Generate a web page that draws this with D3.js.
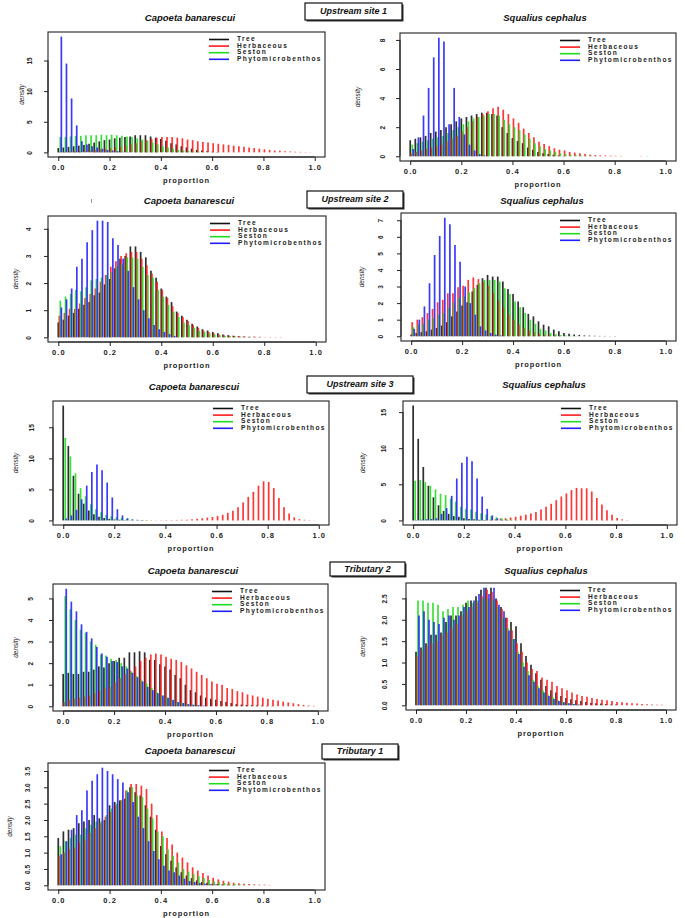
<!DOCTYPE html>
<html><head><meta charset="utf-8">
<script src="https://cdn.jsdelivr.net/npm/d3@7"></script>
<style>body{margin:0;background:#fff} svg{display:block}</style>
</head><body>
<svg id="c" width="685" height="918"></svg>
<script>
// ---------- categories / labels ----------
const sources = ["Tree","Herbaceous","Seston","Phytomicrobenthos"];
const species = ["Capoeta banarescui","Squalius cephalus"];
const sites = ["Upstream site 1","Upstream site 2","Upstream site 3","Tributary 2","Tributary 1"];
const xTicks = [0,0.2,0.4,0.6,0.8,1.0];
const binWidth = 0.02;
const yTicksP1 = [0,5,10,15];
const yTicksP2 = [0,2,4,6,8];
const yTicksP3 = [0,1,2,3,4];
const yTicksP4 = [0,1,2,3,4,5,6,7];
const yTicksP5 = [0,5,10,15];
const yTicksP6 = [0,5,10,15];
const yTicksP7 = [0,1,2,3,4,5];
const yTicksP8 = [0,0.5,1.0,1.5,2.0,2.5];
const yTicksP9 = [0,0.5,1.0,1.5,2.0,2.5,3.0,3.5];

// ---------- densities per 0.02 bin (index k -> proportion 0.02k) ----------
// Upstream site 1 - Capoeta banarescui
const p1Tree = [0.7,0.8,0.9,1.0,1.1,1.2,1.4,1.6,1.8,2.0,2.1,2.3,2.4,2.5,2.6,2.8,2.8,2.8,2.6,2.4,2.2,1.9,1.5,1.3,1.0,0.8,0.6,0.4,0.3,0.2,0.1,0.05];
const p1Herb = [0.1,0.1,0.15,0.2,0.2,0.3,0.3,0.4,0.5,0.6,0.7,0.8,0.9,1.1,1.3,1.5,1.8,2.0,2.2,2.4,2.5,2.5,2.5,2.4,2.3,2.1,2.0,1.8,1.7,1.6,1.5,1.4,1.3,1.2,1.1,1.0,0.9,0.8,0.7,0.6,0.5,0.4,0.3,0.25,0.2,0.15,0.1,0.08,0.05,0.03];
const p1Seston = [2.5,2.5,2.6,2.7,2.7,2.8,2.8,2.8,2.9,2.8,2.9,2.8,2.7,2.6,2.5,2.3,2.1,1.9,1.6,1.3,1.0,0.8,0.6,0.4,0.3,0.2,0.15,0.1,0.05,0.03,0.02];
const p1Phyto = [18.9,14.5,8.8,4.4,1.8,1.3,1.0,0.8,0.6,0.4,0.3,0.2,0.1,0.05];
// Upstream site 1 - Squalius cephalus
const p2Tree = [1.1,1.2,1.3,1.4,1.6,1.7,1.8,2.0,2.2,2.4,2.6,2.7,2.8,2.9,3.0,3.0,2.9,2.8,2.0,1.6,1.25,1.05,0.9,0.6,0.45,0.3,0.2,0.15,0.1,0.05,0.02];
const p2Herb = [0.2,0.3,0.4,0.5,0.6,0.7,0.8,1.0,1.2,1.4,1.7,2.0,2.4,2.7,2.9,3.1,3.3,3.4,3.2,2.9,2.6,2.3,1.9,1.6,1.3,1.0,0.85,0.7,0.55,0.45,0.4,0.3,0.25,0.2,0.15,0.1,0.08,0.06,0.05,0.04,0.03,0.02,0,0,0,0.02];
const p2Seston = [0.8,0.9,1.0,1.1,1.2,1.3,1.4,1.6,1.8,2.0,2.2,2.4,2.6,2.7,2.8,2.9,2.9,2.8,2.5,2.2,2.0,1.8,1.5,1.2,0.9,0.7,0.5,0.4,0.3,0.2,0.15,0.1,0.08,0.05,0.04,0.03,0.02,0,0,0,0,0,0,0,0,0,0.02];
const p2Phyto = [0.5,1.3,2.8,4.7,6.8,8.15,7.9,2.2,4.7,2.7,1.5,0.8,0.4,0.15,0.05];
// Upstream site 2 - Capoeta banarescui
const p3Tree = [0.55,0.65,0.8,0.9,1.05,1.2,1.3,1.55,1.65,1.95,2.15,2.55,2.9,3.0,3.35,3.35,3.15,2.95,2.45,2.2,1.8,1.5,1.3,0.95,0.8,0.65,0.5,0.4,0.3,0.25,0.2,0.15,0.1,0.08,0.06,0.04,0.03,0.02,0.02,0.01];
const p3Herb = [0.8,0.9,1.05,1.05,1.25,1.45,1.6,1.8,2.05,2.3,2.6,2.8,3.0,3.1,3.15,3.15,2.9,2.65,2.35,2.05,1.75,1.45,1.15,0.9,0.75,0.6,0.45,0.35,0.25,0.2,0.15,0.1,0.08,0.06,0.05,0.04,0.03,0.02,0.02,0.02,0.01,0.01,0.01,0.01];
const p3Seston = [1.35,1.5,1.6,1.75,1.7,1.85,2.1,2.15,2.2,2.3,2.4,2.6,2.7,2.95,2.95,2.9,2.6,2.3,2.2,1.75,1.5,1.2,0.95,0.75,0.55,0.45,0.35,0.25,0.2,0.15,0.1,0.08,0.05,0.04,0.03,0.02];
const p3Phyto = [1.1,1.4,1.8,2.6,2.9,3.5,3.95,4.3,4.3,4.25,3.65,3.4,2.9,2.45,1.85,1.4,1.0,0.7,0.45,0.3,0.2,0.12,0.05];
// Upstream site 2 - Squalius cephalus
const p4Tree = [0.1,0.2,0.25,0.3,0.4,0.5,0.65,0.85,1.2,1.5,1.85,2.05,2.7,3.1,3.5,3.7,3.6,3.6,3.3,2.85,2.55,2.1,1.75,1.35,1.2,0.9,0.7,0.6,0.4,0.3,0.2,0.15,0.1,0.08,0.05,0.04,0.03,0.02,0.02,0.01,0.01];
const p4Herb = [0.85,1.0,1.15,1.4,1.65,2.05,2.2,2.6,2.6,2.95,3.05,3.4,3.55,3.45,3.3,3.05,2.6,2.15,1.75,1.3,1.0,0.7,0.5,0.35,0.25,0.15,0.1,0.06,0.04,0.02];
const p4Seston = [0.55,0.7,0.75,1.0,1.1,1.3,1.4,1.7,2.0,2.3,2.4,2.65,2.9,3.2,3.4,3.4,3.4,3.3,2.9,2.55,2.1,1.75,1.4,1.0,0.75,0.45,0.35,0.2,0.12,0.08,0.05,0.03,0.02];
const p4Phyto = [0.45,1.0,1.8,3.2,4.9,6.05,7.15,6.75,5.5,4.5,3.0,2.0,1.3,0.6,0.35,0.2,0.1,0.05];
// Upstream site 3 - Capoeta banarescui
const p5Tree = [18.5,12.0,7.2,4.3,2.7,1.6,1.0,0.6,0.4,0.25,0.15,0.1,0.05,0.03];
const p5Herb = [0,0,0,0,0,0,0,0,0,0,0,0,0,0,0,0.02,0.02,0.03,0.03,0.04,0.05,0.06,0.08,0.1,0.12,0.18,0.25,0.35,0.45,0.55,0.7,0.9,1.2,1.55,2.1,2.9,3.8,4.6,5.6,6.3,6.2,5.2,3.6,2.1,1.1,0.5,0.2,0.1,0.05,0.02];
const p5Seston = [13.3,10.3,7.6,5.2,3.9,2.6,1.8,1.3,0.9,0.65,0.5,0.35,0.25,0.15,0.1,0.08,0.05];
const p5Phyto = [0.3,0.8,1.7,3.4,5.6,7.8,9.0,8.1,6.1,3.7,1.8,0.8,0.35,0.15,0.08,0.04];
// Upstream site 3 - Squalius cephalus
const p6Tree = [15.9,11.3,7.4,4.8,3.2,2.1,1.3,0.9,0.6,0.5,0.3,0.2,0.15,0.1,0.05];
const p6Herb = [0,0,0,0,0,0,0,0,0,0,0,0,0,0.02,0.05,0.1,0.15,0.25,0.3,0.4,0.5,0.65,0.8,0.95,1.15,1.5,1.9,2.3,2.8,3.3,3.75,4.2,4.5,4.45,4.45,4.0,3.1,2.2,1.4,0.8,0.35,0.15,0.05];
const p6Seston = [5.5,5.6,5.3,4.8,4.3,3.7,3.5,3.0,2.6,1.9,1.6,1.5,1.2,1.0,0.8,0.6,0.45,0.3,0.2,0.1,0.05];
const p6Phyto = [0.05,0.1,0.15,0.2,0.3,0.9,1.7,3.4,5.8,8.0,8.8,8.2,5.8,3.3,1.6,0.7,0.3,0.1,0.05];
// Tributary 2 - Capoeta banarescui
const p7Tree = [1.5,1.55,1.5,1.5,1.6,1.6,1.7,1.85,1.8,2.0,2.1,2.25,2.25,2.5,2.5,2.55,2.5,2.15,2.15,1.95,1.85,1.7,1.45,1.3,1.0,0.75,0.65,0.5,0.4,0.35,0.3,0.25,0.2,0.15,0.1,0.08,0.06,0.05,0.04,0.03,0.02,0.01];
const p7Herb = [0.2,0.3,0.35,0.4,0.45,0.5,0.6,0.7,0.85,0.9,1.1,1.3,1.5,1.65,1.85,2.1,2.25,2.4,2.45,2.4,2.3,2.2,2.15,2.05,1.9,1.75,1.6,1.45,1.3,1.15,1.05,1.0,0.85,0.8,0.7,0.65,0.55,0.5,0.45,0.4,0.35,0.3,0.27,0.22,0.18,0.14,0.1,0.06,0.04,0.02];
const p7Seston = [5.1,4.5,4.0,3.55,3.4,3.0,2.85,2.4,2.35,2.2,2.15,2.0,1.85,1.6,1.4,1.2,1.05,0.85,0.65,0.5,0.4,0.3,0.2,0.15,0.1,0.08,0.05];
const p7Phyto = [5.45,4.85,4.4,3.8,3.45,3.15,2.75,2.45,2.3,2.1,2.05,1.85,1.75,1.55,1.35,1.15,0.9,0.75,0.6,0.5,0.4,0.3,0.2,0.15,0.1,0.07,0.05,0.03];
// Tributary 2 - Squalius cephalus
const p8Tree = [1.25,1.35,1.45,1.65,1.65,1.7,1.95,2.1,2.1,2.2,2.4,2.45,2.55,2.7,2.75,2.75,2.5,2.3,2.05,1.95,1.85,1.45,1.15,0.95,0.75,0.6,0.45,0.35,0.3,0.22,0.17,0.14,0.12,0.1,0.08,0.06,0.05,0.04,0.03,0.02,0.02];
const p8Herb = [1.15,1.3,1.4,1.45,1.5,1.65,1.7,1.8,1.9,2.1,2.2,2.3,2.4,2.55,2.7,2.65,2.45,2.25,2.05,1.75,1.45,1.25,1.0,0.85,0.8,0.65,0.6,0.55,0.45,0.4,0.35,0.3,0.25,0.22,0.2,0.17,0.15,0.13,0.12,0.1,0.08,0.07,0.06,0.05,0.04,0.03,0.025,0.02,0.015,0.01];
const p8Seston = [2.45,2.45,2.4,2.4,2.35,2.2,2.25,2.3,2.3,2.35,2.45,2.4,2.45,2.5,2.5,2.45,2.3,2.05,1.8,1.55,1.25,1.0,0.8,0.6,0.45,0.35,0.25,0.18,0.12,0.08,0.05,0.03,0.02];
const p8Phyto = [2.1,2.2,2.0,1.95,1.9,2.05,2.1,2.0,2.1,2.3,2.3,2.45,2.6,2.75,2.6,2.75,2.35,2.2,1.75,1.55,1.2,0.9,0.7,0.55,0.4,0.3,0.22,0.15,0.1,0.07,0.05,0.03,0.02];
// Tributary 1 - Capoeta banarescui
const p9Tree = [1.45,1.65,1.7,1.75,1.9,1.95,2.0,2.15,2.05,2.0,2.45,2.55,2.6,2.65,3.0,2.85,2.75,2.45,2.1,1.7,1.2,0.95,0.75,0.55,0.4,0.3,0.22,0.15,0.1,0.08,0.05,0.04,0.03,0.02,0.01];
const p9Herb = [0.9,1.0,1.1,1.15,1.3,1.4,1.6,1.75,1.9,2.1,2.25,2.45,2.6,2.9,3.1,3.1,3.05,2.95,2.5,2.15,1.65,1.45,1.25,1.0,0.85,0.7,0.55,0.45,0.38,0.3,0.23,0.18,0.14,0.11,0.08,0.06,0.05,0.04,0.03,0.02,0.02,0.01];
const p9Seston = [1.2,1.35,1.45,1.55,1.55,1.75,1.85,1.95,1.95,2.15,2.35,2.5,2.6,2.9,3.0,2.75,2.7,2.35,2.05,1.65,1.5,1.1,0.9,0.7,0.5,0.42,0.35,0.28,0.22,0.16,0.12,0.09,0.07,0.05,0.04,0.03,0.02];
const p9Phyto = [0.95,1.35,1.7,2.15,2.3,2.9,3.2,3.4,3.6,3.5,3.4,3.25,3.15,2.85,2.55,2.1,1.75,1.35,1.05,0.8,0.6,0.45,0.4,0.3,0.2,0.13,0.1,0.07,0.05,0.03,0.02];

// ---------- assembly ----------
const panels = [
  {sp:0, series:[p1Tree,p1Herb,p1Seston,p1Phyto], yTicks:yTicksP1, dec:0},
  {sp:1, series:[p2Tree,p2Herb,p2Seston,p2Phyto], yTicks:yTicksP2, dec:0},
  {sp:0, series:[p3Tree,p3Herb,p3Seston,p3Phyto], yTicks:yTicksP3, dec:0},
  {sp:1, series:[p4Tree,p4Herb,p4Seston,p4Phyto], yTicks:yTicksP4, dec:0},
  {sp:0, series:[p5Tree,p5Herb,p5Seston,p5Phyto], yTicks:yTicksP5, dec:0},
  {sp:1, series:[p6Tree,p6Herb,p6Seston,p6Phyto], yTicks:yTicksP6, dec:0},
  {sp:0, series:[p7Tree,p7Herb,p7Seston,p7Phyto], yTicks:yTicksP7, dec:0},
  {sp:1, series:[p8Tree,p8Herb,p8Seston,p8Phyto], yTicks:yTicksP8, dec:1},
  {sp:0, series:[p9Tree,p9Herb,p9Seston,p9Phyto], yTicks:yTicksP9, dec:1}
];
// layout (pixels): plot box, title position, density label x, y tick label x
const layout = [
  {l:48,t:32,r:325,b:157, tx:190,ty:18, dx:22, yl:30},
  {l:400,t:33,r:676,b:161, tx:545,ty:18, dx:358, yl:383},
  {l:48,t:216,r:326,b:342, tx:189,ty:201, dx:16, yl:29},
  {l:401,t:213,r:676,b:341, tx:542,ty:201.5, dx:362, yl:381},
  {l:53,t:401,r:329,b:525, tx:194,ty:387, dx:16, yl:32},
  {l:403,t:401,r:677,b:525, tx:544,ty:385, dx:363, yl:384},
  {l:53,t:584,r:328,b:711, tx:193,ty:571.5, dx:16, yl:31},
  {l:406,t:583,r:676,b:710, tx:546,ty:571.5, dx:363, yl:385},
  {l:48,t:763,r:325,b:890, tx:190,ty:751.5, dx:10, yl:28}
];
const siteBoxes = [
  {x:305,y:3,w:97,h:17},
  {x:307,y:191,w:96,h:17},
  {x:307,y:376,w:106,h:17},
  {x:330,y:562,w:75,h:14},
  {x:322,y:744,w:76,h:15}
];
const colors = ["#111111","#ff1a1a","#1fdc1f","#1f1fff"];
const offsets = [0,0.004,0.008,0.012];

const svg = d3.select("#c");
const font = "'Liberation Sans', Arial, sans-serif";

panels.forEach((p,i)=>{
  const L = layout[i];
  const M = d3.max(p.series.flat());
  const x = d3.scaleLinear().domain([-0.04,1.04]).range([L.l,L.r]);
  const y = d3.scaleLinear().domain([-0.04*M,1.04*M]).range([L.b,L.t]);
  const g = svg.append("g");

  // bars (type = "h")
  p.series.forEach((vals,s)=>{
    g.append("g").selectAll("line").data(vals.map((v,k)=>({v,k})).filter(d=>d.v>0))
      .join("line")
      .attr("x1",d=>x(d.k*binWidth+offsets[s])).attr("x2",d=>x(d.k*binWidth+offsets[s]))
      .attr("y1",y(0)).attr("y2",d=>y(d.v))
      .attr("stroke",colors[s]).attr("stroke-width",1.7).attr("stroke-opacity",0.88);
  });

  // box
  g.append("rect").attr("x",L.l).attr("y",L.t).attr("width",L.r-L.l).attr("height",L.b-L.t)
    .attr("fill","none").attr("stroke","#222").attr("stroke-width",1.1);

  // x axis
  const xa = g.append("g").attr("transform",`translate(0,${L.b})`)
    .call(d3.axisBottom(x).tickValues(xTicks).tickSize(4).tickPadding(3).tickFormat(d3.format(".1f")));
  xa.select(".domain").attr("d",`M${x(0)},0H${x(1)}`).attr("stroke","#222");
  xa.selectAll("line").attr("stroke","#222");
  xa.selectAll("text").attr("font-family",font).attr("font-size",7.5).attr("font-weight","bold")
    .attr("letter-spacing",1.1).attr("fill","#222").attr("dy","0.85em");

  // y axis
  const ya = g.append("g").attr("transform",`translate(${L.l},0)`)
    .call(d3.axisLeft(y).tickValues(p.yTicks).tickSize(4).tickFormat(d3.format(p.dec?".1f":"d")));
  ya.select(".domain").attr("d",`M0,${y(p.yTicks[0])}V${y(p.yTicks[p.yTicks.length-1])}`).attr("stroke","#222");
  ya.selectAll("line").attr("stroke","#222");
  ya.selectAll("text").attr("font-family",font).attr("font-size",6.5).attr("font-weight","bold")
    .attr("fill","#222").attr("text-anchor","middle").attr("dy",null).attr("dominant-baseline","middle")
    .attr("x",0).attr("y",0)
    .attr("transform",`translate(${L.yl-L.l},0) rotate(-90)`);

  // labels
  g.append("text").attr("x",(x(0)+x(1))/2).attr("y",L.b+24).attr("text-anchor","middle")
    .attr("dominant-baseline","middle").attr("font-family",font).attr("font-size",7.5)
    .attr("font-weight","bold").attr("letter-spacing",0.9).attr("fill","#222").text("proportion");
  g.append("text").attr("transform",`translate(${L.dx},${(L.t+L.b)/2}) rotate(-90)`)
    .attr("text-anchor","middle").attr("dominant-baseline","middle").attr("font-family",font)
    .attr("font-size",6.5).attr("font-style","italic").attr("fill","#222").text("density");
  g.append("text").attr("x",L.tx).attr("y",L.ty).attr("text-anchor","middle").attr("dominant-baseline","middle")
    .attr("font-family",font).attr("font-size",9.5).attr("font-weight","bold").attr("font-style","italic")
    .attr("fill","#111").text(species[p.sp]);

  // legend
  sources.forEach((s,j)=>{
    const yy = L.t + 7.5 + j*6.6;
    g.append("line").attr("x1",L.r-116).attr("x2",L.r-96).attr("y1",yy).attr("y2",yy)
      .attr("stroke",colors[j]).attr("stroke-width",1.6);
    g.append("text").attr("x",L.r-88).attr("y",yy).attr("dominant-baseline","middle")
      .attr("font-family",font).attr("font-size",6.6).attr("font-weight","bold").attr("letter-spacing",1.35)
      .attr("fill","#222").text(s);
  });
});

// site label boxes
siteBoxes.forEach((b,i)=>{
  svg.append("rect").attr("x",b.x+1.5).attr("y",b.y+1.5).attr("width",b.w).attr("height",b.h).attr("fill","#333");
  svg.append("rect").attr("x",b.x).attr("y",b.y).attr("width",b.w).attr("height",b.h)
    .attr("fill","#fff").attr("stroke","#111").attr("stroke-width",1.2);
  svg.append("text").attr("x",b.x+b.w/2).attr("y",b.y+b.h/2+0.5).attr("text-anchor","middle")
    .attr("dominant-baseline","middle").attr("font-family",font).attr("font-size",9)
    .attr("font-weight","bold").attr("font-style","italic").attr("fill","#111").text(sites[i]);
});
// stray mark above second-row left panel
svg.append("line").attr("x1",91.5).attr("x2",91.5).attr("y1",199).attr("y2",203).attr("stroke","#999").attr("stroke-width",1);
</script>
</body></html>
